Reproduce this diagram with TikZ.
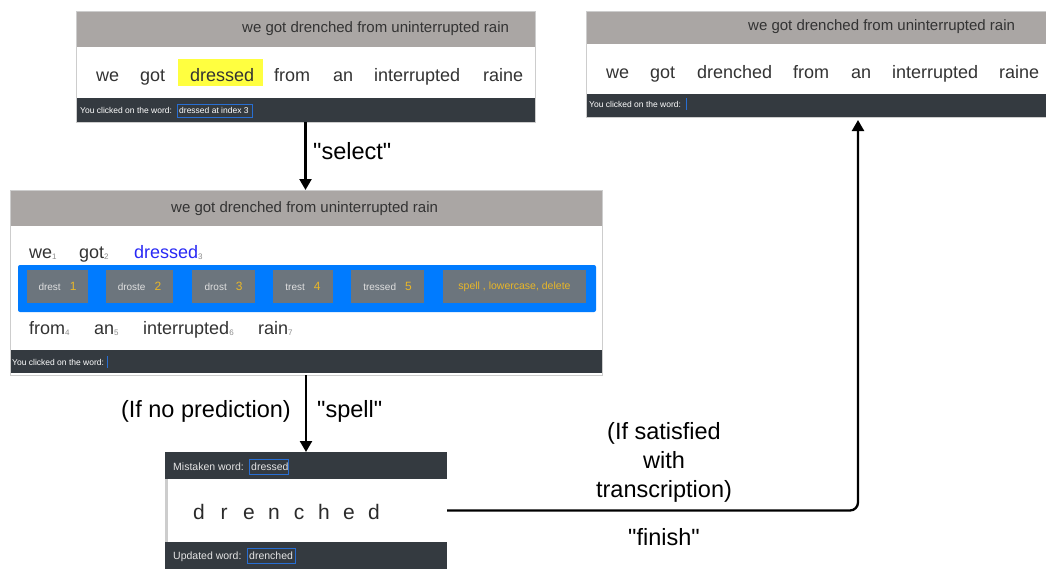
\documentclass[tikz,border=0pt]{standalone}
\usepackage{fontspec}
\setmainfont{Liberation Sans}
\usetikzlibrary{arrows.meta,calc}

\definecolor{hdrgray}{RGB}{170,166,164}
\definecolor{darkbar}{RGB}{52,58,64}
\definecolor{uiblue}{RGB}{0,123,255}
\definecolor{btngray}{RGB}{108,117,125}
\definecolor{numyellow}{RGB}{232,182,40}
\definecolor{hilite}{RGB}{255,255,64}
\definecolor{wordblue}{RGB}{40,40,245}
\definecolor{uitext}{RGB}{51,51,51}
\definecolor{subgray}{RGB}{140,140,140}
\definecolor{boxblue}{RGB}{40,110,210}
\definecolor{edgegray}{RGB}{205,205,205}

\tikzset{
  panel/.style={anchor=north west, fill=white, draw=none, inner sep=0pt, outer sep=0pt},
  rim/.style={draw=edgegray, line width=1pt},
  hdr/.style={anchor=base west, inner sep=0pt, text=uitext, font=\fontsize{15}{15}\selectfont},
  word/.style={anchor=base west, inner sep=0pt, text=uitext, font=\fontsize{18}{18}\selectfont},
  tiny/.style={anchor=base west, inner sep=0pt, text=white, font=\fontsize{8.5}{8.5}\selectfont},
  small/.style={anchor=base west, inner sep=0pt, text=white!90!black, font=\fontsize{10.5}{10.5}\selectfont},
  fieldbox/.style={draw=boxblue, line width=0.8pt},
  btn/.style={fill=btngray, inner sep=0pt, minimum height=33pt, text=white!88!black,
              font=\fontsize{10}{10}\selectfont},
  letter/.style={anchor=base, inner sep=0pt, text=uitext!85!black, font=\fontsize{21}{21}\selectfont},
  lbl/.style={inner sep=0pt, text=black, font=\fontsize{23.5}{29}\selectfont},
  flow/.style={line width=2.3pt, -{Triangle[length=11pt,width=12pt]}},
}
\newcommand{\idx}[1]{{\fontsize{8}{8}\selectfont\color{subgray}\raisebox{-1.5pt}{#1}}}
\newcommand{\pick}[1]{\hspace{9pt}{\fontsize{12}{12}\selectfont\color{numyellow}#1}}
\newcommand{\qt}[1]{\textquotedbl#1\textquotedbl}

\begin{document}
\begin{tikzpicture}[x=1pt,y=-1pt]
\useasboundingbox (0,0) rectangle (1046,570);
\fill[white] (0,0) rectangle (1046,570);

% ---------- first screen: word selection ----------
\node[panel, minimum width=459pt, minimum height=111pt] (p1) at (76,11) {};
\fill[hdrgray] (76,11) rectangle (535,47);
\fill[darkbar] (76,98) rectangle (535,122);
\draw[rim] (p1.north west) rectangle (p1.south east);
\node[hdr] at (242,32) {we got drenched from uninterrupted rain};
\fill[hilite] (178,59) rectangle (263,86);
\node[word] at (96,81) {we};
\node[word] at (140,81) {got};
\node[word] at (190,81) {dressed};
\node[word] at (274,81) {from};
\node[word] at (333,81) {an};
\node[word] at (374,81) {interrupted};
\node[word] at (483,81) {raine};
\node[tiny] at (80,113) {You clicked on the word:};
\draw[fieldbox] (177,104) rectangle (252,117);
\node[tiny] at (179,113) {dressed at index 3};

% ---------- second screen: suggestions ----------
\node[panel, minimum width=592pt, minimum height=185pt] (p2) at (10,190) {};
\fill[hdrgray] (10,190) rectangle (602,226);
\fill[darkbar] (10,350) rectangle (602,373);
\draw[rim] (p2.north west) rectangle (p2.south east);
\node[hdr] at (171,212) {we got drenched from uninterrupted rain};
\node[word] at (29,258) {we\idx{1}};
\node[word] at (79,258) {got\idx{2}};
\node[word, text=wordblue] at (134,258) {dressed\idx{3}};
\fill[uiblue, rounded corners=2pt] (18,265) rectangle (596,312);
\node[btn, minimum width=61pt] (b1) at (57.5,286.5) {drest\pick{1}};
\node[btn, minimum width=67pt] (b2) at (139.5,286.5) {droste\pick{2}};
\node[btn, minimum width=63pt] (b3) at (223.5,286.5) {drost\pick{3}};
\node[btn, minimum width=60pt] (b4) at (303,286.5) {trest\pick{4}};
\node[btn, minimum width=73pt] (b5) at (387.5,286.5) {tressed\pick{5}};
\node[btn, minimum width=143pt, text=numyellow, font=\fontsize{10.5}{10.5}\selectfont] (b6) at (514.5,286.5) {spell , lowercase, delete};
\node[word] at (29,334) {from\idx{4}};
\node[word] at (94,334) {an\idx{5}};
\node[word] at (143,334) {interrupted\idx{6}};
\node[word] at (258,334) {rain\idx{7}};
\node[tiny] at (12,365) {You clicked on the word:};
\draw[boxblue, line width=0.8pt] (107,356) -- (107,368);

% ---------- third screen: spelling ----------
\node[panel, minimum width=282pt, minimum height=117pt] (p3) at (165,452) {};
\fill[darkbar] (165,452) rectangle (447,479);
\fill[darkbar] (165,542) rectangle (447,569);
\fill[edgegray] (165,479) rectangle (168,542);
\node[small] at (173,470) {Mistaken word:};
\draw[fieldbox] (249,459) rectangle (288,474);
\node[small] at (251,470) {dressed};
\foreach \ch [count=\i from 0] in {d,r,e,n,c,h,e,d}
  \node[letter] at (199+25*\i,519) {\ch};
\node[small] at (173,559) {Updated word:};
\draw[fieldbox] (247,548) rectangle (295,563);
\node[small] at (249,559) {drenched};

% ---------- fourth screen: corrected sentence ----------
\node[panel, minimum width=460pt, minimum height=106pt] (p4) at (586,11) {};
\fill[hdrgray] (586,11) rectangle (1046,44);
\fill[darkbar] (586,94) rectangle (1046,117);
\draw[rim] (p4.north west) rectangle (p4.south east);
\node[hdr] at (748,30) {we got drenched from uninterrupted rain};
\node[word] at (606,78) {we};
\node[word] at (650,78) {got};
\node[word] at (697,78) {drenched};
\node[word] at (793,78) {from};
\node[word] at (851,78) {an};
\node[word] at (892,78) {interrupted};
\node[word] at (999,78) {raine};
\node[tiny] at (589,107) {You clicked on the word:};
\draw[boxblue, line width=0.8pt] (686,98) -- (686,110);

% ---------- transitions ----------
\draw[flow] (p1.south) -- (p1.south |- p2.north);
\node[lbl, anchor=base west] (lsel) at (313,159) {\qt{select}};

\draw[flow] (p2.south) -- (p2.south |- p3.north);
\node[lbl, anchor=base east] (lnop) at (291,417) {(If no prediction)};
\node[lbl, anchor=base west] (lspell) at (317,417) {\qt{spell}};

\coordinate (up) at ($(p4.south)+(42,3)$);
\draw[flow, rounded corners=8pt] (p3.east) -| (up);
\node[lbl, align=center] (lsat) at (664,462) {(If satisfied\\with\\transcription)};
\node[lbl, anchor=base] (lfin) at (664,545) {\qt{finish}};
\end{tikzpicture}
\end{document}
